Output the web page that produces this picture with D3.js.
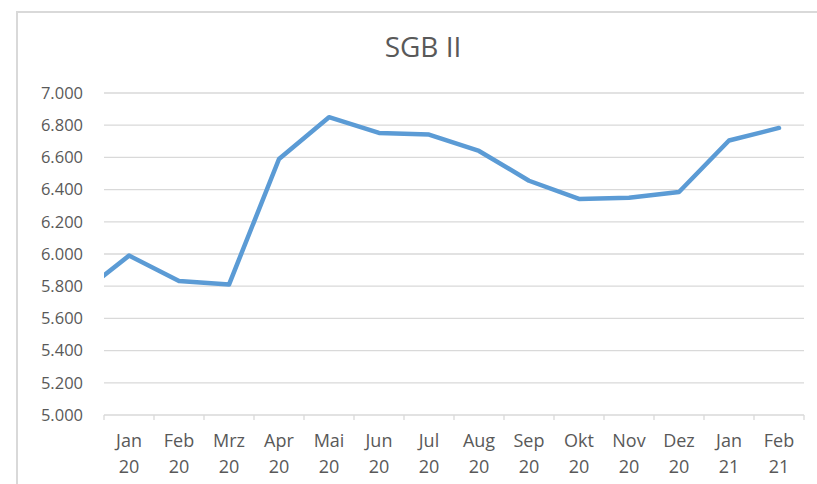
<!DOCTYPE html>
<html>
<head>
<meta charset="utf-8">
<script src="https://cdn.jsdelivr.net/npm/d3@7"></script>
<style>
  body { margin: 0; background: #fff; }
  text { font-family: "Open Sans", "Liberation Sans", sans-serif; fill: #595959; }
</style>
</head>
<body>
<div id="chart"></div>
<script>
// data
var months = ["Jan", "Feb", "Mrz", "Apr", "Mai", "Jun", "Jul", "Aug", "Sep", "Okt", "Nov", "Dez", "Jan", "Feb"];
var years = ["20", "20", "20", "20", "20", "20", "20", "20", "20", "20", "20", "20", "21", "21"];
var values = [5990, 5832, 5810, 6590, 6850, 6752, 6742, 6640, 6455, 6342, 6350, 6385, 6705, 6783];
// previous month (Dez 19), only its segment is visible at the left edge
var prevValue = 5745;
var yTicks = [5000, 5200, 5400, 5600, 5800, 6000, 6200, 6400, 6600, 6800, 7000];

var width = 817, height = 484;
var margin = { top: 93, right: 13, bottom: 69, left: 104 };
var plotW = width - margin.left - margin.right;
var plotH = height - margin.top - margin.bottom;

var de = d3.formatLocale({ decimal: ",", thousands: ".", grouping: [3], currency: ["", " €"] });
var fmt = de.format(",.0f");

var svg = d3.select("#chart").append("svg")
    .attr("width", width)
    .attr("height", height);

// chart frame (only top and left edge are in the picture)
svg.append("path")
    .attr("d", "M17,484 V12 H817")
    .attr("fill", "none")
    .attr("stroke", "#d9d9d9")
    .attr("stroke-width", 2);

svg.append("text")
    .attr("x", 423)
    .attr("y", 57)
    .attr("text-anchor", "middle")
    .attr("font-size", 28)
    .text("SGB II");

var g = svg.append("g")
    .attr("transform", `translate(${margin.left}, ${margin.top})`);

var xScale = d3.scaleBand()
    .domain(d3.range(months.length))
    .range([0, plotW]);

var yScale = d3.scaleLinear()
    .domain([5000, 7000])
    .range([plotH, 0]);

// gridlines
g.append("g")
    .selectAll("line")
    .data(yTicks.slice(1))
    .enter()
    .append("line")
    .attr("x1", 0)
    .attr("x2", plotW)
    .attr("y1", d => yScale(d))
    .attr("y2", d => yScale(d))
    .attr("stroke", "#d9d9d9")
    .attr("stroke-width", 1.3);

// y axis labels
var leftAxis = d3.axisLeft(yScale)
    .tickValues(yTicks)
    .tickFormat(fmt)
    .tickSize(0)
    .tickPadding(21);

g.append("g")
    .call(leftAxis)
    .call(a => a.select(".domain").remove())
    .selectAll("text")
    .attr("font-size", 16.5)
    .attr("fill", "#595959")
    .attr("font-family", null);

// x axis: line with ticks between categories
var xAxisG = g.append("g")
    .attr("transform", `translate(0, ${plotH})`);

xAxisG.append("line")
    .attr("x1", 0).attr("x2", plotW)
    .attr("stroke", "#d9d9d9")
    .attr("stroke-width", 1.3);

xAxisG.selectAll(".tick")
    .data(d3.range(months.length + 1))
    .enter()
    .append("line")
    .attr("x1", d => d * xScale.step())
    .attr("x2", d => d * xScale.step())
    .attr("y1", 0)
    .attr("y2", 5)
    .attr("stroke", "#d9d9d9")
    .attr("stroke-width", 1.3);

var labels = xAxisG.selectAll(".lbl")
    .data(months)
    .enter()
    .append("text")
    .attr("text-anchor", "middle")
    .attr("font-size", 18)
    .attr("x", (d, i) => xScale(i) + xScale.bandwidth() / 2);

labels.append("tspan")
    .attr("x", (d, i) => xScale(i) + xScale.bandwidth() / 2)
    .attr("y", 32)
    .text(d => d);

labels.append("tspan")
    .attr("x", (d, i) => xScale(i) + xScale.bandwidth() / 2)
    .attr("y", 58)
    .text((d, i) => years[i]);

// line, clipped to the plot area
g.append("clipPath")
    .attr("id", "plotclip")
    .append("rect")
    .attr("width", plotW)
    .attr("height", plotH);

var pts = [{ i: -1, v: prevValue }].concat(values.map((v, i) => ({ i: i, v: v })));

var line = d3.line()
    .x(d => xScale.step() * (d.i + 0.5))
    .y(d => yScale(d.v));

g.append("path")
    .datum(pts)
    .attr("clip-path", "url(#plotclip)")
    .attr("d", line)
    .attr("fill", "none")
    .attr("stroke", "#5b9bd5")
    .attr("stroke-width", 4.5)
    .attr("stroke-linejoin", "round")
    .attr("stroke-linecap", "round");
</script>
</body>
</html>
